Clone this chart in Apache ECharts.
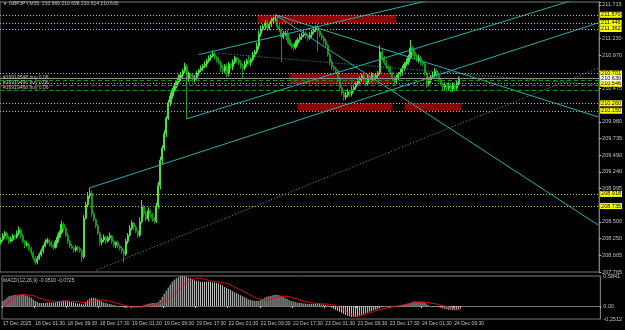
<!DOCTYPE html>
<html>
<head>
<meta charset="utf-8">
<script src="https://cdn.jsdelivr.net/npm/echarts@6/dist/echarts.min.js"></script>
<style>
html,body{margin:0;padding:0;background:#000;}
#chart{width:625px;height:330px;}
</style>
</head>
<body>
<div id="chart"></div>
<script>
// GBPJPY M30 - candles + MACD(12,26,9)

var titleText = 'GBPJPY,M30  210.660 210.698 210.614 210.630';
var macdTitle = 'MACD(12,26,9) -0.0510 -0.0725';

// time labels, one every 16 bars
var timeLabels = ['17 Dec 2025','18 Dec 01:30','18 Dec 09:30','18 Dec 17:30','19 Dec 01:30','19 Dec 09:30','19 Dec 17:30',
  '22 Dec 01:30','22 Dec 09:30','22 Dec 17:30','23 Dec 01:30','23 Dec 09:30','23 Dec 17:30','24 Dec 01:30','24 Dec 09:30'];

// right price scale labels (blank = hidden behind a yellow level)
var priceTicks = ['207.765','208.005','208.250','208.500','','208.995','209.240','209.490','209.735','209.980',
  '','210.475','','210.970','211.230','','211.715'];

var firstOpen = 208.20;
var closes = [
208.24,208.30,208.34,208.27,208.22,208.25,208.30,208.28,208.34,208.39,
208.30,208.22,208.16,208.18,208.11,208.05,207.97,207.91,207.96,208.02,
208.08,208.15,208.21,208.24,208.20,208.16,208.13,208.21,208.28,208.35,
208.47,208.41,208.31,208.22,208.15,208.12,208.09,208.13,208.11,208.08,
207.99,208.56,208.76,208.89,208.93,208.63,208.54,208.45,208.34,208.20,
208.24,208.28,208.22,208.27,208.30,208.22,208.16,208.20,208.15,208.12,
208.08,208.03,208.22,208.31,208.41,208.49,208.43,208.37,208.31,208.51,
208.73,208.63,208.55,208.67,208.61,208.56,208.52,208.74,209.04,209.42,
209.60,209.81,210.04,210.27,210.37,210.46,210.52,210.58,210.64,210.68,
210.74,210.81,210.62,210.69,210.67,210.61,210.64,210.71,210.75,210.78,
210.81,210.84,210.89,210.93,210.96,210.99,210.94,210.90,210.86,210.78,
210.74,210.81,210.70,210.84,210.80,210.87,210.93,210.90,210.86,210.81,
210.78,210.84,210.89,210.86,210.91,210.98,211.02,211.11,211.29,211.36,
211.40,211.45,211.37,211.43,211.48,211.51,211.52,211.40,211.35,211.24,
211.29,211.30,211.20,211.14,211.11,211.09,211.15,211.20,211.24,211.27,
211.30,211.26,211.23,211.27,211.32,211.35,211.38,211.33,211.27,211.23,
211.18,211.12,210.98,210.87,210.80,210.77,210.74,210.62,210.49,210.41,
210.35,210.38,210.43,210.40,210.46,210.50,210.55,210.59,210.62,210.67,
210.61,210.56,210.64,210.61,210.68,210.64,210.67,210.71,211.02,210.93,
210.86,210.81,210.78,210.71,210.64,210.58,210.64,210.69,210.72,210.78,
210.84,210.87,210.94,211.08,211.02,210.96,210.90,210.93,210.87,210.84,
210.71,210.55,210.61,210.65,210.68,210.74,210.67,210.61,210.55,210.50,
210.53,210.49,210.52,210.47,210.53,210.49,210.56,210.63
];
// wick lengths above / below the body
var wickUp = [
.03,.04,.03,.02,.03,.04,.03,.02,.04,.05, .02,.03,.02,.04,.02,.03,.02,.03,.04,.03,
.03,.02,.04,.03,.02,.03,.02,.03,.04,.03, .05,.03,.02,.03,.02,.03,.02,.03,.02,.03,
.02,.05,.04,.06,.08,.04,.03,.02,.03,.02, .03,.04,.02,.03,.05,.02,.03,.02,.03,.02,
.03,.02,.04,.03,.05,.04,.02,.03,.02,.06, .10,.03,.04,.05,.02,.03,.02,.05,.06,.05,
.04,.05,.03,.04,.05,.03,.04,.03,.05,.04, .03,.05,.03,.04,.02,.03,.04,.03,.02,.04,
.03,.04,.03,.04,.03,.05,.03,.02,.04,.03, .05,.03,.04,.03,.02,.04,.03,.02,.03,.04,
.03,.05,.03,.08,.03,.04,.03,.05,.04,.05, .03,.04,.05,.03,.04,.03,.05,.04,.03,.02,
.04,.03,.05,.03,.02,.03,.04,.03,.05,.03, .04,.03,.02,.04,.03,.04,.03,.05,.02,.03,
.03,.04,.02,.03,.04,.02,.03,.02,.03,.04, .03,.05,.04,.03,.05,.04,.03,.05,.04,.03,
.04,.03,.05,.03,.04,.03,.04,.03,.10,.04, .03,.04,.02,.03,.02,.03,.04,.03,.05,.04,
.03,.05,.04,.12,.03,.04,.03,.05,.03,.02, .03,.02,.04,.03,.05,.04,.03,.02,.03,.02,
.04,.03,.05,.02,.04,.03,.04,.03
];
var wickDown = [
.03,.02,.04,.03,.04,.02,.03,.04,.02,.03, .04,.03,.04,.02,.03,.04,.03,.04,.03,.02,
.03,.04,.02,.03,.05,.03,.04,.02,.03,.02, .03,.04,.03,.04,.03,.02,.04,.03,.04,.03,
.08,.03,.02,.03,.04,.05,.03,.04,.03,.05, .04,.03,.04,.02,.03,.04,.03,.04,.03,.04,
.05,.12,.03,.04,.02,.03,.05,.03,.04,.03, .03,.05,.03,.04,.03,.05,.04,.03,.04,.05,
.06,.04,.05,.03,.05,.04,.03,.04,.03,.05, .04,.03,.59,.04,.05,.03,.04,.03,.04,.03,
.04,.03,.05,.03,.04,.02,.03,.04,.03,.05, .04,.03,.06,.04,.03,.05,.03,.04,.03,.04,
.15,.03,.04,.03,.05,.03,.04,.03,.05,.04, .03,.05,.04,.03,.04,.03,.04,.05,.04,.37,
.03,.04,.05,.03,.04,.05,.03,.04,.03,.04, .03,.04,.05,.03,.04,.03,.04,.30,.03,.04,
.05,.04,.03,.05,.04,.03,.04,.05,.04,.03, .05,.04,.03,.05,.04,.03,.04,.03,.05,.04,
.03,.05,.04,.03,.04,.05,.03,.04,.03,.04, .03,.04,.05,.03,.04,.06,.03,.04,.03,.05,
.04,.03,.04,.03,.05,.04,.03,.04,.05,.03, .04,.06,.04,.05,.03,.04,.05,.04,.03,.05,
.04,.06,.04,.05,.04,.05,.03,.04
];

var macdMain = [
.10,.13,.16,.19,.20,.21,.22,.22,.22,.23, .22,.21,.20,.18,.16,.13,.10,.08,.06,.06,
.06,.06,.07,.07,.07,.07,.07,.08,.09,.10, .11,.11,.10,.09,.08,.07,.06,.05,.05,.04,
.03,.07,.11,.14,.16,.16,.15,.13,.11,.09, .07,.06,.05,.04,.03,.02,.01,0,-.01,-.02,
-.03,-.04,-.03,-.03,-.02,-.01,-.01,-.01,-.01,0, .02,.03,.04,.05,.06,.06,.06,.08,.12,.18,
.24,.30,.36,.42,.47,.51,.54,.56,.58,.58, .58,.57,.55,.54,.52,.50,.49,.48,.47,.47,
.47,.47,.47,.47,.46,.46,.45,.44,.42,.40, .37,.35,.33,.31,.29,.27,.25,.23,.21,.19,
.17,.15,.13,.12,.11,.10,.10,.10,.12,.14, .16,.18,.19,.20,.21,.22,.22,.21,.20,.18,
.16,.14,.12,.10,.09,.08,.07,.06,.06,.05, .05,.04,.04,.04,.04,.04,.04,.04,.03,.03,
.02,.01,-.01,-.03,-.05,-.07,-.09,-.11,-.13,-.15, -.17,-.19,-.20,-.21,-.21,-.21,-.20,-.19,-.17,-.16,
-.14,-.13,-.11,-.10,-.08,-.07,-.06,-.04,-.01,0, 0,0,0,-.01,-.01,-.01,0,.01,.02,.03,
.04,.05,.06,.08,.09,.09,.09,.08,.08,.07, .05,.02,0,-.01,-.01,-.01,-.02,-.03,-.04,-.05,
-.06,-.07,-.07,-.08,-.08,-.08,-.07,-.05
];
var macdSignal = [
-.02,.01,.04,.08,.12,.15,.18,.20,.21,.22, .22,.22,.22,.21,.21,.20,.19,.17,.16,.14,
.13,.12,.11,.10,.10,.09,.09,.09,.09,.09, .09,.10,.10,.10,.10,.09,.09,.08,.08,.07,
.07,.07,.07,.08,.09,.10,.11,.12,.12,.12, .12,.11,.10,.09,.08,.07,.06,.05,.04,.03,
.02,.01,0,-.01,-.02,-.02,-.02,-.02,-.02,-.02, -.01,-.01,0,.01,.02,.03,.04,.05,.05,.06,
.08,.10,.13,.16,.19,.23,.27,.31,.35,.38, .42,.45,.48,.50,.52,.53,.54,.54,.54,.53,
.52,.51,.50,.49,.48,.48,.47,.47,.46,.46, .45,.44,.43,.41,.39,.37,.35,.33,.31,.29,
.27,.25,.23,.21,.19,.17,.15,.14,.13,.12, .12,.12,.13,.14,.15,.16,.17,.18,.19,.19,
.19,.19,.18,.17,.16,.15,.14,.12,.11,.10, .09,.08,.07,.06,.06,.05,.05,.05,.04,.04,
.04,.04,.03,.03,.02,.01,-.01,-.03,-.05,-.07, -.09,-.12,-.14,-.16,-.18,-.19,-.20,-.19,-.18,-.17,
-.16,-.15,-.13,-.12,-.11,-.09,-.08,-.07,-.06,-.05, -.04,-.03,-.02,-.02,-.01,0,0,.01,.02,.02,
.03,.04,.05,.06,.06,.07,.07,.08,.08,.08, .07,.07,.06,.05,.05,.04,.03,.02,.01,0,
-.01,-.02,-.03,-.04,-.05,-.06,-.07,-.07
];

// horizontal levels
var yellowLevels = [211.570, 211.446, 211.362, 210.701, 210.546, 210.260, 210.150, 208.918, 208.735];
var yellowLabels = ['211.570','211.446','211.362','210.701','210.546','210.260','210.150','208.918','208.735'];
var bidPrice = 210.630;
var orderLevels = [210.605, 210.535, 210.460];
var orderLabels = ['#16919548 buy 0.06', '#16919496 buy 0.06', '#16919468 buy 0.06'];

// zones [barFrom, priceTop, barTo, priceBottom]
var zones = [
  [127, 211.570, 196, 211.446],
  [143, 210.701, 194, 210.546],
  [147, 210.260, 194, 210.150],
  [200, 210.260, 228, 210.150]
];
// trend lines [bar, price, bar, price]
var solidLines = [
  [44, 209.01, 296, 211.45],
  [92, 210.03, 296, 211.90],
  [136, 211.57, 296, 210.06],
  [136, 211.57, 296, 208.46],
  [98, 210.98, 213, 211.79]
];
var dottedLines = [
  [47, 207.79, 296, 210.78],
  [108, 211.00, 296, 210.53]
];

var TOTAL = 297;
var slots = [];
for (var i = 0; i < TOTAL; i++) slots.push(i);

var candles = [];
for (var i = 0; i < closes.length; i++) {
  var o = i === 0 ? firstOpen : closes[i - 1];
  var c = closes[i];
  candles.push([o, c, Math.min(o, c) - wickDown[i], Math.max(o, c) + wickUp[i]]);
}

var priceMin = 207.765, priceMax = 211.759, priceStep = 0.246875;
var macdMin = -0.2512, macdMax = 0.5841;

var gray = '#c0c0c0';
var fontFam = '"Liberation Sans", Arial, sans-serif';
var cyan = '#20b2aa';

var myChart = echarts.init(document.getElementById('chart'));

var series = [];

// red zones, under everything
series.push({
  type: 'line', xAxisIndex: 0, yAxisIndex: 0, data: [], z: 1, silent: true,
  markArea: {
    silent: true,
    itemStyle: { color: '#8e0000', opacity: 1 },
    data: zones.map(function (zz) { return [{ coord: [zz[0], zz[1]] }, { coord: [zz[2], zz[3]] }]; })
  }
});

// yellow levels, bid line, order lines
series.push({
  type: 'line', xAxisIndex: 0, yAxisIndex: 0, data: [], z: 2, silent: true,
  markLine: {
    silent: true, symbol: 'none', animation: false,
    data: yellowLevels.map(function (v, k) {
      return {
        yAxis: v,
        lineStyle: { color: '#c8c800', type: [1, 2], width: 1 },
        label: {
          show: true, position: 'end', distance: 1, formatter: yellowLabels[k],
          color: '#000', backgroundColor: '#ffff00', fontSize: 5.5, fontFamily: fontFam, padding: [0, 1, 0, 1]
        }
      };
    }).concat(orderLevels.map(function (v, k) {
      return {
        yAxis: v,
        lineStyle: { color: '#0a9a0a', type: [4, 3], width: 1 },
        label: {
          show: true, position: 'insideStartTop', distance: [3, 0], formatter: orderLabels[k],
          color: gray, fontSize: 5, fontFamily: fontFam
        }
      };
    })).concat([{
      yAxis: bidPrice,
      lineStyle: { color: '#8c8c8c', type: 'solid', width: 1 },
      label: {
        show: true, position: 'end', distance: 1, formatter: bidPrice.toFixed(3),
        color: '#000', backgroundColor: '#ffffff', fontSize: 5.5, fontFamily: fontFam, padding: [0, 1, 0, 1]
      }
    }])
  }
});

series.push({
  type: 'candlestick', xAxisIndex: 0, yAxisIndex: 0, data: candles, z: 3,
  barWidth: 1.6, silent: true,
  itemStyle: { color: '#3fe63f', color0: '#129a12', borderColor: '#3fe63f', borderColor0: '#129a12', borderWidth: 1 }
});

solidLines.forEach(function (l) {
  series.push({
    type: 'line', xAxisIndex: 0, yAxisIndex: 0, z: 4, silent: true, clip: true,
    data: [[l[0], l[1]], [l[2], l[3]]], showSymbol: false, symbol: 'none',
    lineStyle: { color: cyan, width: 1 }
  });
});
dottedLines.forEach(function (l) {
  series.push({
    type: 'line', xAxisIndex: 0, yAxisIndex: 0, z: 4, silent: true, clip: true,
    data: [[l[0], l[1]], [l[2], l[3]]], showSymbol: false, symbol: 'none',
    lineStyle: { color: cyan, width: 1, type: [1, 2] }
  });
});

// MACD pane
series.push({
  type: 'bar', xAxisIndex: 1, yAxisIndex: 1, data: macdMain, barWidth: 1, silent: true,
  itemStyle: { color: '#c8c8c8' }
});
series.push({
  type: 'line', xAxisIndex: 1, yAxisIndex: 1, data: macdSignal, showSymbol: false, symbol: 'none', silent: true,
  lineStyle: { color: '#e01010', width: 1 }
});

function showTime(idx) { return idx % 16 === 0 && idx / 16 < timeLabels.length; }

var option = {
  backgroundColor: '#000000',
  animation: false,
  textStyle: { fontFamily: fontFam },
  grid: [
    { left: 0, right: 23, top: 2, height: 270, show: true, borderColor: '#7a7a7a', borderWidth: 1, backgroundColor: 'transparent' },
    { left: 0, right: 23, top: 276, height: 43, show: true, borderColor: '#7a7a7a', borderWidth: 1, backgroundColor: 'transparent' }
  ],
  xAxis: [
    { type: 'category', gridIndex: 0, data: slots, axisLabel: { show: false }, axisTick: { show: false }, axisLine: { show: false }, splitLine: { show: false } },
    {
      type: 'category', gridIndex: 1, data: slots,
      axisLine: { show: true, lineStyle: { color: '#7a7a7a' } },
      axisTick: { show: true, length: 2, interval: function (idx) { return showTime(idx); }, lineStyle: { color: gray } },
      axisLabel: {
        show: true, interval: function (idx) { return showTime(idx); }, align: 'left', margin: 2,
        color: gray, fontSize: 5, fontFamily: fontFam,
        formatter: function (v, idx) { return showTime(idx) ? timeLabels[idx / 16] : ''; }
      },
      splitLine: { show: false }
    }
  ],
  yAxis: [
    {
      type: 'value', gridIndex: 0, position: 'right', min: priceMin, max: priceMax, interval: priceStep, scale: true,
      axisLine: { show: true, lineStyle: { color: '#7a7a7a' } },
      axisTick: { show: true, length: 2, lineStyle: { color: gray } },
      splitLine: { show: false },
      axisLabel: {
        color: gray, fontSize: 5.5, fontFamily: fontFam, margin: 3, showMaxLabel: true, showMinLabel: true,
        formatter: function (v) {
          var k = Math.round((v - priceMin) / priceStep);
          if (Math.abs(v - (priceMin + k * priceStep)) > 0.001) return '';
          return priceTicks[k] || '';
        }
      }
    },
    {
      type: 'value', gridIndex: 1, position: 'right', min: macdMin, max: macdMax, interval: -macdMin,
      axisLine: { show: true, lineStyle: { color: '#7a7a7a' } },
      axisTick: { show: false },
      splitLine: { show: false },
      axisLabel: {
        color: gray, fontSize: 5.5, fontFamily: fontFam, margin: 3,
        formatter: function (v) {
          if (Math.abs(v) < 1e-6) return '0.00';
          if (Math.abs(v - macdMin) < 1e-6) return macdMin.toFixed(4);
          if (Math.abs(v - macdMax) < 1e-6) return macdMax.toFixed(4);
          return '';
        }
      }
    }
  ],
  graphic: [
    { type: 'text', left: 3, top: 2, style: { text: '\u25BC', fill: gray, font: '4px ' + fontFam } },
    { type: 'text', left: 9, top: 1, style: { text: titleText, fill: gray, font: '5px ' + fontFam } },
    { type: 'text', left: 3, top: 278, style: { text: macdTitle, fill: gray, font: '5px ' + fontFam } }
  ],
  series: series
};

myChart.setOption(option);
</script>
</body>
</html>
